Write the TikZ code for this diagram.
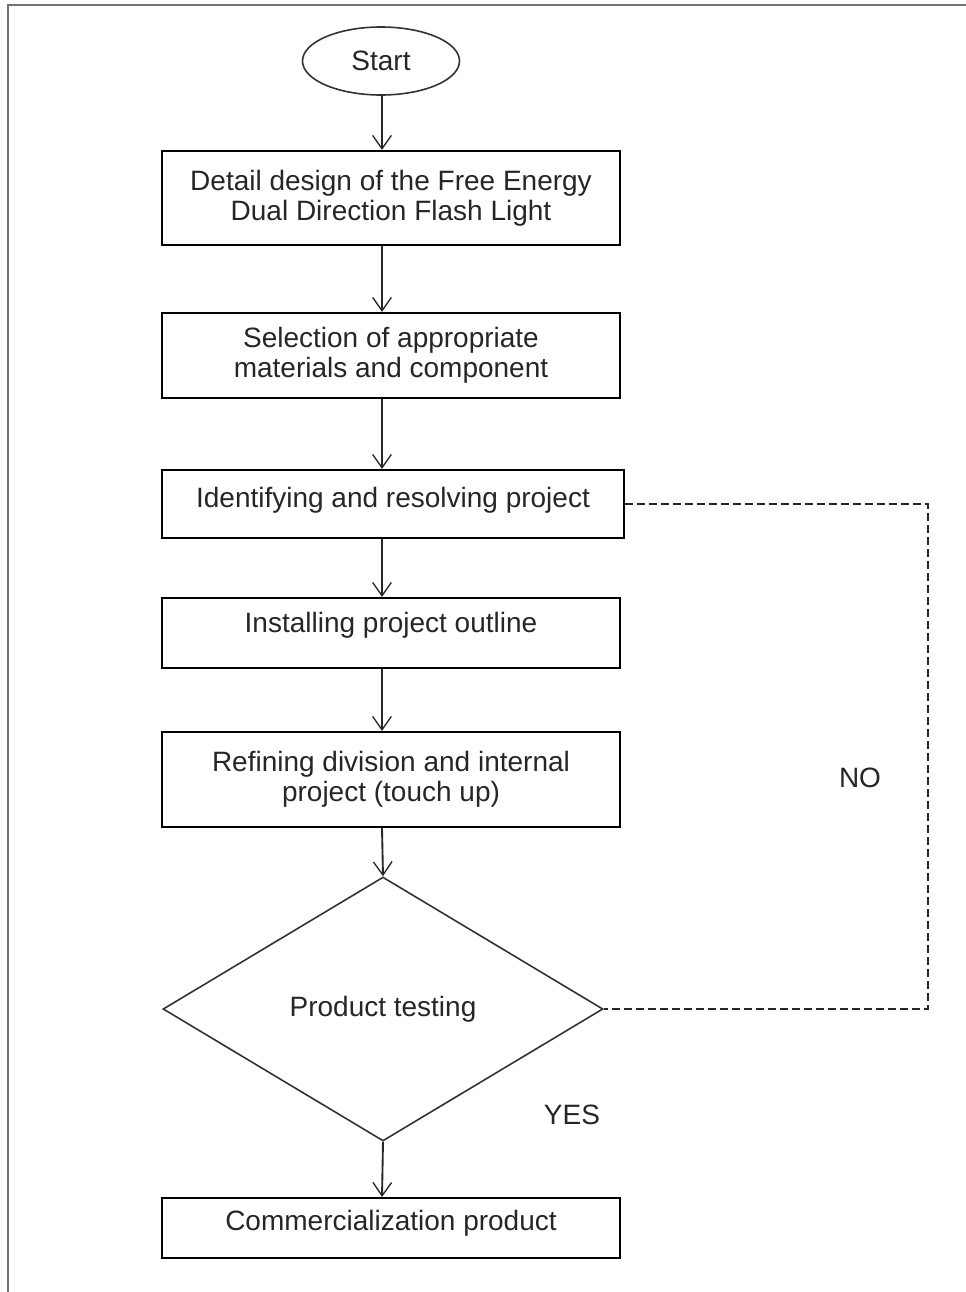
\documentclass[tikz,border=0pt]{standalone}
\usepackage{fontspec}
\setmainfont{Liberation Sans}
\usetikzlibrary{shapes.geometric,arrows.meta}
\begin{document}
\begin{tikzpicture}[x=0.75pt,y=-0.75pt,
  every node/.style={font=\fontsize{21pt}{22.5pt}\selectfont, text=black!85},
  box/.style={draw=black, line width=1.6pt, rectangle, inner sep=0pt, align=center, minimum width=343.5pt},
  arr/.style={draw=black!85, line width=1.4pt, -{Straight Barb[length=10pt,width=14pt,line width=1pt]}},
  loop/.style={draw=black!85, line width=1.3pt, dash pattern=on 6pt off 3pt},
  frame/.style={draw=black!55, line width=1.8pt}
]
\useasboundingbox (0,0) rectangle (966,1292);
\draw[frame] (8,1292) -- (8,5) -- (966,5);

\node[draw=black!80, line width=1.2pt, ellipse, inner sep=0pt, minimum width=117.75pt, minimum height=51pt] (start) at (381,61) {Start};
\node[box, minimum height=70.5pt] (b1) at (391,198) {Detail design of the Free Energy\\Dual Direction Flash Light};
\node[box, minimum height=63.75pt] (b2) at (391,355.5) {Selection of appropriate\\materials and component};
\node[box, minimum height=51pt, minimum width=346.5pt, text height=15pt, text depth=10.5pt] (b3) at (393,504) {Identifying and resolving project};
\node[box, minimum height=52.5pt, text height=11pt, text depth=12.5pt] (b4) at (391,633) {Installing project outline};
\node[box, minimum height=71.25pt] (b5) at (391,779.5) {Refining division and internal\\project (touch up)};
\node[draw=black!80, line width=1.2pt, diamond, inner sep=0pt, minimum width=330pt, minimum height=198pt] (dia) at (383,1009) {Product testing};
\node[box, minimum height=45pt, text height=13pt, text depth=10pt] (b6) at (391,1228) {Commercialization product};

\node (no) at (860,778) {NO};
\node (yes) at (572,1115) {YES};

\coordinate (ax) at (382,0);
\coordinate (lx) at (928,0);

\draw[arr] (start.south -| ax) -- (b1.north -| ax);
\draw[arr] (b1.south -| ax) -- (b2.north -| ax);
\draw[arr] (b2.south -| ax) -- (b3.north -| ax);
\draw[arr] (b3.south -| ax) -- (b4.north -| ax);
\draw[arr] (b4.south -| ax) -- (b5.north -| ax);
\draw[arr] (b5.south -| ax) -- (dia.north);
\draw[arr] (dia.south) -- (b6.north -| ax);

\draw[loop] (b3.east) -- (b3.east -| lx) |- (dia.east);
\end{tikzpicture}
\end{document}
